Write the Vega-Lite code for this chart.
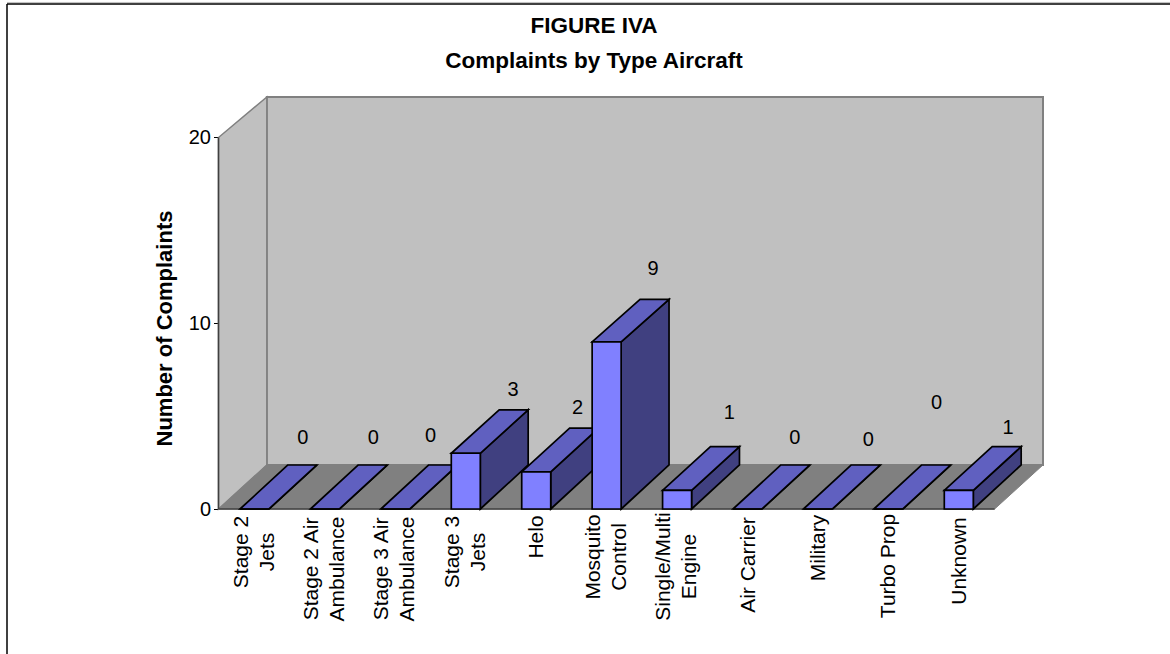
{
"$schema":"https://vega.github.io/schema/vega-lite/v6.json",
"width":825,"height":412,
"autosize":"none",
"padding":{"left":218.5,"top":97,"right":126.5,"bottom":145},
"background":"white",
"title":{"text":["FIGURE IVA","Complaints by Type Aircraft"],"anchor":"middle","frame":"group","dx":-37,"offset":-72,"font":"Liberation Sans","fontSize":22.5,"fontWeight":"bold","color":"black","lineHeight":35},
"config":{"view":{"stroke":null},"text":{"font":"Liberation Sans"}},
"datasets":{"edges":[{"edge":0},{"edge":1}]},
"data":{"values":[
{"category":"Stage 2|Jets","complaints":0},
{"category":"Stage 2 Air|Ambulance","complaints":0},
{"category":"Stage 3 Air|Ambulance","complaints":0},
{"category":"Stage 3|Jets","complaints":3},
{"category":"Helo","complaints":2},
{"category":"Mosquito|Control","complaints":9},
{"category":"Single/Multi|Engine","complaints":1},
{"category":"Air Carrier","complaints":0},
{"category":"Military","complaints":0},
{"category":"Turbo Prop","complaints":0},
{"category":"Unknown","complaints":1}
]},
"transform":[
{"window":[{"op":"row_number","as":"n"}]},
{"calculate":"datum.n-1+0.3053","as":"xl"},
{"calculate":"datum.xl+0.4118","as":"xr"},
{"calculate":"datum.complaints*0.9906+2.369","as":"bv"}
],
"layer":[
{"data":{"values":[{"k":"wall"}]},"transform":[],
 "mark":{"type":"rect","fill":"#C0C0C0","stroke":"#808080","strokeWidth":2},
 "encoding":{
  "x":{"datum":0.686,"type":"quantitative","scale":{"domain":[0,11.714],"nice":false,"zero":false},"axis":null},
  "x2":{"datum":11.707},
  "y":{"datum":2.369,"type":"quantitative","scale":{"domain":[0,22.18],"nice":false,"zero":false},
   "axis":{"values":[0,10,20],"grid":false,"domain":false,"title":"Number of Complaints","titleFont":"Liberation Sans","titleFontSize":22,"titleFontWeight":"bold","titleColor":"black","titleX":-47,"titleY":231,"titleBaseline":"alphabetic","labelFont":"Liberation Sans","labelFontSize":20,"labelColor":"black","labelPadding":3,"tickColor":"black","tickSize":5}},
  "y2":{"datum":22.18}
 }},
{"data":{"name":"edges"},
 "transform":[{"calculate":"datum.edge*0.686","as":"ex"},{"calculate":"datum.edge*2.369","as":"ey"},{"calculate":"20+datum.edge*2.18","as":"ey2"}],
 "mark":{"type":"area","fill":"#C0C0C0","stroke":"#808080","strokeWidth":1.5},
 "encoding":{"x":{"field":"ex","type":"quantitative","axis":null},"y":{"field":"ey","type":"quantitative","stack":null},"y2":{"field":"ey2"}}},
{"data":{"name":"edges"},
 "transform":[{"calculate":"datum.edge*0.686","as":"ex"},{"calculate":"11.02+datum.edge*0.686","as":"ex2"},{"calculate":"datum.edge*2.369","as":"ey"}],
 "mark":{"type":"area","orient":"horizontal","fill":"#808080","stroke":"#808080","strokeWidth":1},
 "encoding":{"y":{"field":"ey","type":"quantitative"},"x":{"field":"ex","type":"quantitative","stack":null,"axis":null},"x2":{"field":"ex2"}}},
{"data":{"name":"edges"},
 "transform":[{"calculate":"0","as":"lx"},{"calculate":"datum.edge*20","as":"ly"}],
 "mark":{"type":"line","color":"#404040","strokeWidth":1.5},
 "encoding":{"x":{"field":"lx","type":"quantitative","axis":null},"y":{"field":"ly","type":"quantitative"}}},
{"data":{"name":"edges"},
 "transform":[{"calculate":"datum.edge*11.02","as":"lx"},{"calculate":"0","as":"ly"}],
 "mark":{"type":"line","color":"#404040","strokeWidth":1.5},
 "encoding":{"x":{"field":"lx","type":"quantitative","axis":null},"y":{"field":"ly","type":"quantitative"}}},
{"transform":[{"calculate":"[0,1]","as":"corner"},{"flatten":["corner"]},
  {"calculate":"datum.xr+datum.corner*0.68","as":"sx"},
  {"calculate":"datum.corner*2.369","as":"sy"},
  {"calculate":"datum.corner==0?datum.complaints:datum.bv","as":"sy2"}],
 "mark":{"type":"area","fill":"#404080","stroke":"black","strokeWidth":1.7},
 "encoding":{"detail":{"field":"category"},"x":{"field":"sx","type":"quantitative","axis":null},"y":{"field":"sy","type":"quantitative","stack":null},"y2":{"field":"sy2"}}},
{"transform":[{"calculate":"[0,1]","as":"corner"},{"flatten":["corner"]},
  {"calculate":"datum.xl+datum.corner*0.68","as":"tx"},
  {"calculate":"datum.xr+datum.corner*0.68","as":"tx2"},
  {"calculate":"datum.corner==0?datum.complaints:datum.bv","as":"ty"}],
 "mark":{"type":"area","orient":"horizontal","fill":"#6060C0","stroke":"black","strokeWidth":1.7},
 "encoding":{"detail":{"field":"category"},"y":{"field":"ty","type":"quantitative"},"x":{"field":"tx","type":"quantitative","stack":null,"axis":null},"x2":{"field":"tx2"}}},
{"transform":[{"calculate":"0","as":"base"}],
 "mark":{"type":"rect","fill":"#8080FF","stroke":"black","strokeWidth":1.7},
 "encoding":{"x":{"field":"xl","type":"quantitative","axis":null},"x2":{"field":"xr"},"y":{"field":"base","type":"quantitative"},"y2":{"field":"complaints"}}},
{"transform":[
  {"calculate":"datum.xl+0.2059+0.686+[0,0,-13,-1,-7,-2,4,-1,2,0,1][datum.n-1]/70.43","as":"lx"},
  {"calculate":"datum.bv+[28,28,30,21,21,31,35,28,26,63,20][datum.n-1]/18.575","as":"ly"}],
 "mark":{"type":"text","fontSize":20,"color":"black","align":"center","baseline":"middle","dy":1},
 "encoding":{"x":{"field":"lx","type":"quantitative","axis":null},"y":{"field":"ly","type":"quantitative"},"text":{"field":"complaints","type":"quantitative"}}},
{"transform":[
  {"calculate":"datum.xl+0.2059+(indexof(datum.category,'|')>=0?-13:1)/70.43","as":"cx"},
  {"calculate":"-[43,60,60,43,28,48,57.5,56,39,57,52][datum.n-1]/18.575","as":"cy"}],
 "mark":{"type":"text","fontSize":21,"color":"black","angle":270,"align":"center","baseline":"middle","lineBreak":"|","lineHeight":26},
 "encoding":{"x":{"field":"cx","type":"quantitative","axis":null},"y":{"field":"cy","type":"quantitative"},"text":{"field":"category","type":"nominal"}}},
{"data":{"name":"edges"},
 "transform":[{"calculate":"-3.003","as":"lx"},{"calculate":"27.19-datum.edge*35.04","as":"ly"}],
 "mark":{"type":"line","color":"black","strokeWidth":1.5},
 "encoding":{"x":{"field":"lx","type":"quantitative","axis":null},"y":{"field":"ly","type":"quantitative"}}},
{"data":{"name":"edges"},
 "transform":[{"calculate":"-3.003+datum.edge*16.52","as":"lx"},{"calculate":"27.19","as":"ly"}],
 "mark":{"type":"line","color":"black","strokeWidth":1.5},
 "encoding":{"x":{"field":"lx","type":"quantitative","axis":null},"y":{"field":"ly","type":"quantitative"}}},
{"data":{"name":"edges"},
 "transform":[{"calculate":"-3.003+datum.edge*16.52","as":"lx"},{"calculate":"27.27","as":"ly"}],
 "mark":{"type":"line","color":"#C0C0C0","strokeWidth":1},
 "encoding":{"x":{"field":"lx","type":"quantitative","axis":null},"y":{"field":"ly","type":"quantitative"}}}
]
}
